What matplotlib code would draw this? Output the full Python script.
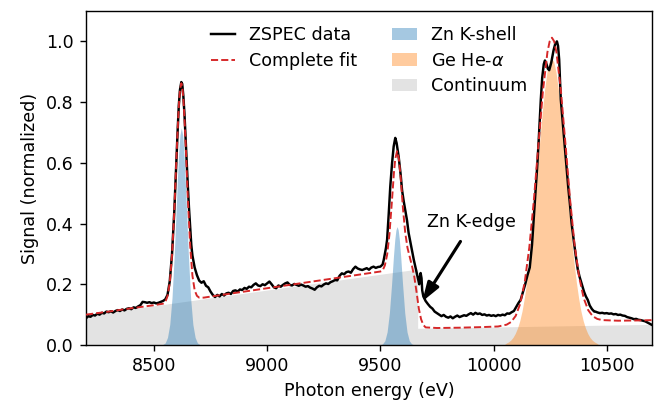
import matplotlib
matplotlib.use("Agg")
import matplotlib.pyplot as plt
from matplotlib.patches import Rectangle

# ---------------- data ----------------
data_energy = [
    8200, 8210, 8220, 8230, 8240, 8250, 8260, 8270, 8280, 8290,
    8300, 8310, 8320, 8330, 8340, 8350, 8360, 8370, 8380, 8390,
    8400, 8410, 8420, 8430, 8440, 8450, 8460, 8470, 8480, 8490,
    8500, 8510, 8520, 8530, 8540, 8550,
    8560, 8570, 8580, 8590, 8600, 8605, 8610, 8615, 8621, 8625,
    8630, 8635, 8640, 8645, 8650, 8655, 8660, 8665, 8670, 8680,
    8690, 8700, 8710, 8720, 8730, 8740, 8750, 8760,
    8770, 8780, 8790, 8800, 8810, 8820, 8830, 8840, 8850, 8860,
    8870, 8880, 8890, 8900, 8910, 8920, 8930, 8940, 8950, 8960,
    8970, 8980, 8990, 9000, 9010, 9020, 9030, 9040, 9050, 9060,
    9070, 9080, 9090, 9100, 9110, 9120, 9130, 9140, 9150, 9160,
    9170, 9180, 9190, 9200, 9210, 9220, 9230, 9240, 9250, 9260,
    9270, 9280, 9290, 9300, 9310, 9320, 9330, 9340, 9350, 9360,
    9370, 9380, 9390, 9400, 9410, 9420, 9430, 9440, 9450, 9460,
    9470, 9480, 9490, 9500,
    9510, 9515, 9525, 9530, 9537, 9544, 9552, 9559, 9566, 9572,
    9581, 9590, 9596, 9603, 9610, 9618, 9625, 9635, 9648, 9660,
    9668, 9672, 9675, 9678, 9682, 9685, 9690, 9700, 9710, 9720,
    9730, 9740, 9750, 9760, 9770, 9780, 9790, 9800, 9810, 9820,
    9830, 9840, 9850, 9860, 9870, 9880, 9890, 9900, 9910, 9920,
    9930, 9940, 9950, 9960, 9970, 9980, 9990, 10000, 10010, 10020,
    10030, 10040, 10050, 10060, 10070, 10080, 10090, 10100, 10110, 10120,
    10130, 10140, 10150, 10160, 10170, 10176, 10185, 10194, 10200, 10209,
    10215, 10222, 10227, 10232, 10240, 10246, 10255, 10265, 10272, 10280,
    10285, 10290, 10297, 10305, 10313, 10321, 10330, 10338, 10345, 10355,
    10364, 10372, 10380, 10390, 10400, 10408, 10416, 10425, 10435, 10445,
    10450, 10460, 10470, 10480, 10490, 10500, 10510, 10520, 10530, 10540,
    10550, 10560, 10570, 10580, 10590, 10600, 10610, 10620, 10630, 10640,
    10650, 10660, 10670, 10680, 10690, 10700,
]
data_signal = [
    0.088, 0.095, 0.093, 0.099, 0.097, 0.103, 0.100, 0.106, 0.104, 0.110,
    0.108, 0.111, 0.107, 0.112, 0.115, 0.112, 0.117, 0.114, 0.119, 0.121,
    0.118, 0.124, 0.122, 0.127, 0.131, 0.142, 0.141, 0.139, 0.141, 0.138,
    0.140, 0.137, 0.139, 0.142, 0.145, 0.150,
    0.165, 0.210, 0.300, 0.440, 0.620, 0.710, 0.790, 0.840, 0.866, 0.860,
    0.820, 0.760, 0.680, 0.600, 0.520, 0.450, 0.390, 0.330, 0.295, 0.255,
    0.230, 0.212, 0.205, 0.210, 0.195, 0.190, 0.176, 0.165,
    0.158, 0.165, 0.160, 0.168, 0.163, 0.170, 0.172, 0.168, 0.178, 0.180,
    0.176, 0.183, 0.181, 0.188, 0.185, 0.192, 0.190, 0.198, 0.203, 0.196,
    0.194, 0.200, 0.197, 0.203, 0.209, 0.200, 0.190, 0.187, 0.196, 0.192,
    0.198, 0.203, 0.206, 0.198, 0.196, 0.201, 0.198, 0.195, 0.199, 0.196,
    0.192, 0.194, 0.189, 0.186, 0.182, 0.190, 0.195, 0.193, 0.199, 0.203,
    0.201, 0.207, 0.210, 0.214, 0.213, 0.228, 0.236, 0.233, 0.240, 0.242,
    0.238, 0.250, 0.258, 0.252, 0.249, 0.247, 0.250, 0.253, 0.248, 0.255,
    0.258, 0.254, 0.257, 0.258,
    0.265, 0.280, 0.320, 0.347, 0.430, 0.522, 0.600, 0.654, 0.682, 0.665,
    0.620, 0.560, 0.510, 0.475, 0.445, 0.410, 0.369, 0.330, 0.280, 0.240,
    0.215, 0.200, 0.225, 0.237, 0.220, 0.180, 0.160, 0.145, 0.135, 0.126,
    0.120, 0.110, 0.105, 0.100, 0.095, 0.099, 0.093, 0.090, 0.094, 0.088,
    0.093, 0.097, 0.092, 0.095, 0.098, 0.096, 0.101, 0.105, 0.100, 0.106,
    0.102, 0.104, 0.099, 0.101, 0.097, 0.099, 0.096, 0.098, 0.095, 0.099,
    0.097, 0.100, 0.098, 0.104, 0.103, 0.108, 0.112, 0.125, 0.138, 0.149,
    0.175, 0.200, 0.230, 0.255, 0.330, 0.400, 0.500, 0.600, 0.680, 0.810,
    0.880, 0.925, 0.937, 0.930, 0.910, 0.905, 0.930, 0.970, 0.990, 1.000,
    0.985, 0.940, 0.810, 0.740, 0.670, 0.600, 0.520, 0.460, 0.400, 0.340,
    0.290, 0.250, 0.225, 0.200, 0.175, 0.160, 0.149, 0.130, 0.118, 0.110,
    0.110, 0.107, 0.105, 0.106, 0.104, 0.105, 0.103, 0.104, 0.101, 0.102,
    0.099, 0.100, 0.097, 0.096, 0.092, 0.090, 0.088, 0.085, 0.086, 0.083,
    0.082, 0.080, 0.078, 0.074, 0.070, 0.066,
]

fit_energy = [
    8200, 8300, 8400, 8500, 8540, 8550, 8560, 8570, 8580, 8590,
    8600, 8605, 8610, 8615, 8621, 8625, 8630, 8635, 8640, 8650,
    8660, 8670, 8680, 8690, 8700, 8720, 8800, 9000, 9200, 9400,
    9500, 9510, 9520, 9530, 9540, 9550, 9560, 9566, 9574, 9582,
    9590, 9600, 9610, 9620, 9630, 9640, 9650, 9660, 9670, 9680,
    9690, 9700, 9750, 9850, 9950, 10020, 10058, 10078, 10098, 10118,
    10138, 10158, 10178, 10198, 10218, 10238, 10248, 10258, 10268, 10278,
    10298, 10318, 10338, 10358, 10378, 10398, 10418, 10438, 10458, 10480,
    10550, 10650, 10700,
]
fit_signal = [
    0.100, 0.110, 0.121, 0.131, 0.136, 0.141, 0.161, 0.205, 0.296, 0.441,
    0.624, 0.712, 0.787, 0.839, 0.862, 0.853, 0.812, 0.746, 0.664, 0.481,
    0.329, 0.229, 0.180, 0.162, 0.156, 0.156, 0.165, 0.187, 0.209, 0.231,
    0.242, 0.245, 0.262, 0.297, 0.363, 0.461, 0.566, 0.613, 0.638, 0.613,
    0.550, 0.450, 0.370, 0.320, 0.290, 0.260, 0.225, 0.175, 0.120, 0.085,
    0.066, 0.058, 0.056, 0.057, 0.059, 0.061, 0.067, 0.076, 0.096, 0.136,
    0.208, 0.321, 0.475, 0.657, 0.834, 0.964, 1.000, 1.012, 1.000, 0.964,
    0.834, 0.660, 0.480, 0.330, 0.225, 0.155, 0.115, 0.095, 0.086, 0.082,
    0.080, 0.081, 0.082,
]

zn_energy = [
    8530, 8540, 8550, 8560, 8570, 8580, 8590, 8600, 8605, 8610,
    8615, 8621, 8627, 8632, 8637, 8642, 8652, 8662, 8672, 8682,
    8692, 8702, 8712,
    9500, 9510, 9520, 9530, 9540, 9550, 9558, 9564, 9569, 9574,
    9579, 9584, 9590, 9598, 9608, 9618, 9628, 9638, 9650,
]
zn_signal = [
    0.000, 0.002, 0.007, 0.025, 0.068, 0.156, 0.300, 0.480, 0.567, 0.641,
    0.692, 0.715, 0.692, 0.641, 0.567, 0.480, 0.300, 0.156, 0.068, 0.025,
    0.007, 0.002, 0.000,
    0.000, 0.004, 0.014, 0.043, 0.105, 0.203, 0.292, 0.348, 0.379, 0.390,
    0.379, 0.348, 0.292, 0.203, 0.105, 0.043, 0.014, 0.004, 0.000,
]

ge_energy = [
    10046, 10056, 10066, 10076, 10086, 10096, 10106, 10116, 10126, 10136,
    10146, 10156, 10166, 10176, 10186, 10196, 10206, 10216, 10226, 10236,
    10246, 10256, 10266, 10276, 10286, 10296, 10306, 10316, 10326, 10336,
    10346, 10356, 10366, 10376, 10386, 10396, 10406, 10416, 10426, 10436,
    10446, 10456, 10466,
]
ge_signal = [
    0.000, 0.006, 0.010, 0.016, 0.025, 0.038, 0.056, 0.080, 0.112, 0.154,
    0.206, 0.268, 0.341, 0.422, 0.510, 0.600, 0.690, 0.772, 0.844, 0.899,
    0.933, 0.945, 0.933, 0.899, 0.844, 0.772, 0.690, 0.600, 0.510, 0.422,
    0.341, 0.268, 0.206, 0.154, 0.112, 0.080, 0.056, 0.038, 0.025, 0.016,
    0.010, 0.006, 0.000,
]

cont_energy = [8200, 9665, 9665, 10700]
cont_signal = [0.098, 0.250, 0.055, 0.068]

x_ticks = [8500, 9000, 9500, 10000, 10500]
y_ticks = [0.0, 0.2, 0.4, 0.6, 0.8, 1.0]

# ---------------- figure ----------------
DPI = 126
fig = plt.figure(figsize=(658 / DPI, 404 / DPI), dpi=DPI)
ax = fig.add_axes([86 / 658, 1 - 345 / 404, (652 - 86) / 658, (345 - 11) / 404])

p_cont = ax.fill_between(cont_energy, 0, cont_signal, color="gray", alpha=0.22,
                         linewidth=0, zorder=1)
p_zn = ax.fill_between(zn_energy, 0, zn_signal, color="C0", alpha=0.4,
                       linewidth=0, zorder=2)
p_ge = ax.fill_between(ge_energy, 0, ge_signal, color="C1", alpha=0.4,
                       linewidth=0, zorder=2)
l_data, = ax.plot(data_energy, data_signal, color="black", lw=1.4, zorder=3)
l_fit, = ax.plot(fit_energy, fit_signal, color="C3", ls="--", lw=1.1, zorder=4)

ax.annotate("", xy=(9685, 0.143), xytext=(9854, 0.341),
            arrowprops=dict(arrowstyle="-|>,head_length=0.75,head_width=0.25",
                            color="black", lw=1.8, mutation_scale=12,
                            shrinkA=0, shrinkB=0), zorder=5)
ax.text(9903, 0.406, "Zn K-edge", ha="center", va="center", fontsize=10)

ax.set_xlim(8200, 10700)
ax.set_ylim(0, 1.1)
ax.set_xticks(x_ticks)
ax.set_yticks(y_ticks)
ax.set_xlabel("Photon energy (eV)")
ax.set_ylabel("Signal (normalized)")

blank = Rectangle((0, 0), 1, 1, visible=False)
ax.legend([l_data, l_fit, blank, p_zn, p_ge, p_cont],
          ["ZSPEC data", "Complete fit", "", "Zn K-shell", "Ge He-$\\alpha$", "Continuum"],
          ncol=2, frameon=False, loc="upper left", bbox_to_anchor=(0.208, 0.976),
          handlelength=1.4, labelspacing=0.44, borderaxespad=0)

fig.savefig("out.png", dpi=DPI)
